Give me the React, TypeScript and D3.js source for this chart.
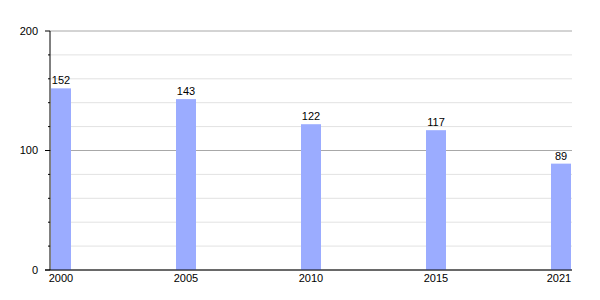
import React from "react";
import * as d3 from "d3";

const years = ["2000", "2005", "2010", "2015", "2021"];
const values = [152, 143, 122, 117, 89];
const yTicks = [0, 100, 200];

const W = 600;
const H = 300;
const left = 50;
const right = 572;
const top = 31;
const bottom = 270;
const barW = 20;

export default function App() {
  const y = d3.scaleLinear().domain([0, 200]).range([bottom, top]);
  const x = d3
    .scalePoint<string>()
    .domain(years)
    .range([left + 1 + barW / 2, right - 1 - barW / 2]);
  const minor = d3.range(0, 201, 20);
  const font = "'Liberation Sans', Arial, sans-serif";

  return (
    <svg
      width={W}
      height={H}
      style={{ position: "absolute", left: 0, top: 0 }}
      fontFamily={font}
      fontSize={11}
    >
      <rect width={W} height={H} fill="#fff" />
      {minor.map((v) => (
        <line
          key={"g" + v}
          x1={left}
          x2={right}
          y1={y(v)}
          y2={y(v)}
          stroke={v % 100 === 0 ? "#a8a8a8" : "#e2e2e2"}
          strokeWidth={1}
        />
      ))}
      {years.map((yr, i) => (
        <g key={yr}>
          <rect
            x={(x(yr) as number) - barW / 2}
            y={y(values[i])}
            width={barW}
            height={bottom - y(values[i])}
            fill="#9bacff"
          />
          <text
            x={x(yr) as number}
            y={y(values[i]) - 4}
            textAnchor="middle"
            fill="#000"
          >
            {values[i]}
          </text>
          <text x={(x(yr) as number) - (i === years.length - 1 ? 2 : 0)} y={282} textAnchor="middle" fill="#000">
            {yr}
          </text>
        </g>
      ))}
      {minor.map((v) => (
        <line
          key={"t" + v}
          x1={v % 100 === 0 ? left - 5 : left - 2}
          x2={left}
          y1={y(v)}
          y2={y(v)}
          stroke="#000"
        />
      ))}
      <line x1={left} x2={left} y1={top} y2={bottom} stroke="#000" />
      <line x1={left - 5} x2={right} y1={bottom} y2={bottom} stroke="#000" />
      {yTicks.map((v) => (
        <text
          key={"l" + v}
          x={38}
          y={y(v)}
          dy="0.35em"
          textAnchor="end"
          fill="#000"
        >
          {v}
        </text>
      ))}
    </svg>
  );
}
